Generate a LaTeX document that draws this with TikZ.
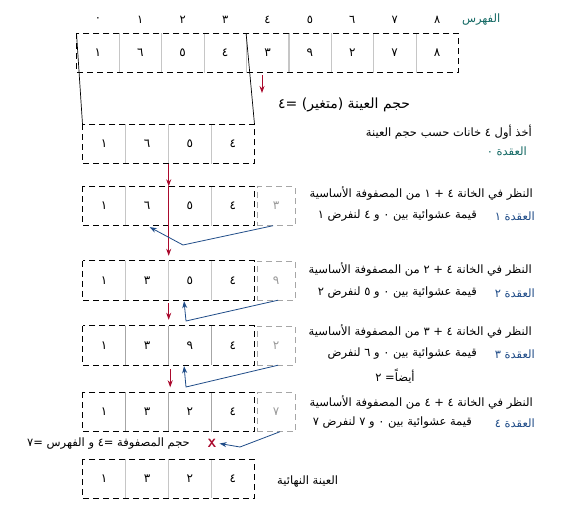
\documentclass[tikz,border=0pt]{standalone}
\usepackage{fontspec}
\newfontfamily\arabicfont[Script=Arabic]{DejaVu Sans}
\TeXXeTstate=1
\usetikzlibrary{positioning,arrows.meta}
\definecolor{idxteal}{RGB}{20,105,100}
\definecolor{nodeblue}{RGB}{30,75,135}
\definecolor{markred}{RGB}{170,10,45}
\newcommand{\artext}[1]{\beginR #1\endR}

\begin{document}
\begin{tikzpicture}[x=1pt,y=-1pt,on grid,node distance=43pt,
    >={Stealth[length=7pt,width=5pt]},
    cell/.style={minimum width=#1,minimum height=39pt,inner sep=0pt,
      font=\arabicfont\fontsize{12}{14}\selectfont},
    cell/.default=42.9pt,
    idx/.style={inner sep=0pt,font=\arabicfont\fontsize{11.5}{13}\selectfont},
    greycell/.style={cell=38pt,draw=gray!70,dash pattern=on 6pt off 4pt,text=gray!80},
    dashbox/.style={draw,line width=0.7pt,dash pattern=on 6pt off 4pt},
    divider/.style={draw=#1,line width=1.2pt},
    note/.style={inner sep=0pt,font=\arabicfont\fontsize{11.5}{13}\selectfont},
    redarrow/.style={->,draw=markred,line width=1pt},
    bluearrow/.style={->,draw=nodeblue,line width=0.8pt}]
  \useasboundingbox (0,0) rectangle (568,519);

  \foreach \v/\k [count=\i from 0] in {١/٠,٦/١,٥/٢,٤/٣,٣/٤,٩/٥,٢/٦,٧/٧,٨/٨} {
    \node[cell=42.4pt] (a_\i) at ({97.9+42.4*\i},53) {\v};
    \node[idx] (ix_\i) [above=33pt of a_\i] {\k};
  }
  \foreach \i in {0,...,7} \draw[divider=gray!45] (a_\i.north east) -- (a_\i.south east);
  \draw[dashbox] (a_0.north west) rectangle (a_8.south east);
  \node[idx,text=idxteal] (ix_name) [right=44pt of ix_8] {\artext{الفهرس}};

  \foreach \r/\y/\c/\l in {0/144/gray!45/{١,٦,٥,٤},1/206/gray!45/{١,٦,٥,٤},
      2/280.5/gray!45/{١,٣,٥,٤},3/345.5/gray!70/{١,٣,٩,٤},
      4/412/gray!70/{١,٣,٢,٤},5/478.7/gray!45/{١,٣,٢,٤}} {
    \foreach \v [count=\i] in \l
      \node[cell] (r\r_\i) at ({61.25+42.9*\i},\y) {\v};
    \foreach \i in {1,2,3} \draw[divider=\c] (r\r_\i.north east) -- (r\r_\i.south east);
    \draw[dashbox] (r\r_1.north west) rectangle (r\r_4.south east);
  }
  \node[greycell] (g_1) [right=43.2pt of r1_4] {٣};
  \node[greycell] (g_2) [right=43.2pt of r2_4] {٩};
  \node[greycell] (g_3) [right=43.2pt of r3_4] {٢};
  \node[greycell] (g_4) [right=43.2pt of r4_4] {٧};

  \draw[line width=0.7pt] (a_0.north west) -- (r0_1.north west);
  \draw[line width=0.7pt] (a_4.north west) -- (r0_4.north east);

  \node[note,font=\arabicfont\fontsize{14}{16}\selectfont,anchor=west] (t_size) at (278,105) {\artext{حجم العينة (متغير) =٤}};
  \node[note,anchor=east] (t_take) at (532,132) {\artext{أخذ أول ٤ خانات حسب حجم العينة}};
  \node[note,anchor=east,text=idxteal] (it_0) at (527,151) {\artext{العقدة ٠}};

  \node[note,anchor=east] (look_1) at (533,193) {\artext{النظر في الخانة ٤ + ١ من المصفوفة الأساسية}};
  \node[note,anchor=east,text=nodeblue] (it_1) at (535,216) {\artext{العقدة ١}};
  \node[note,anchor=east] (pick_1) at (477,216) {\artext{قيمة عشوائية بين ٠ و ٤ لنفرض ١}};

  \node[note,anchor=east] (look_2) at (532,269) {\artext{النظر في الخانة ٤ + ٢ من المصفوفة الأساسية}};
  \node[note,anchor=east,text=nodeblue] (it_2) at (535,293) {\artext{العقدة ٢}};
  \node[note,anchor=east] (pick_2) at (477,293) {\artext{قيمة عشوائية بين ٠ و ٥ لنفرض ٢}};

  \node[note,anchor=east] (look_3) at (532,331) {\artext{النظر في الخانة ٤ + ٣ من المصفوفة الأساسية}};
  \node[note,anchor=east,text=nodeblue] (it_3) at (535,354) {\artext{العقدة ٣}};
  \node[note,anchor=east] (pick_3) at (477,354) {\artext{قيمة عشوائية بين ٠ و ٦ لنفرض}};
  \node[note] (also_3) at (395,376) {\artext{أيضاً= ٢}};

  \node[note,anchor=east] (look_4) at (533,402) {\artext{النظر في الخانة ٤ + ٤ من المصفوفة الأساسية}};
  \node[note,anchor=east,text=nodeblue] (it_4) at (535,423) {\artext{العقدة ٤}};
  \node[note,anchor=east] (pick_4) at (472,423) {\artext{قيمة عشوائية بين ٠ و ٧ لنفرض ٧}};

  \node[note,anchor=west] (final) at (277,482) {\artext{العينة النهائية}};

  \node[font=\sffamily\bfseries\large,text=markred,inner sep=0pt] (cross) at (212,443) {X};
  \node[note,anchor=east] (t_end) at (190,444) {\artext{حجم المصفوفة =٤ و الفهرس =٧}};

  \coordinate (sz_top) at (262,75);
  \coordinate (sz_tip) at (262,93);
  \draw[redarrow] (sz_top) -- (sz_tip);
  \draw[redarrow] (r0_2.south east) -- (r1_2.north east);
  \draw[redarrow,shorten >=5pt] (r1_2.north east) -- (r2_2.north east);
  \draw[redarrow,shorten <=3pt,shorten >=6pt] (r2_2.south east) -- (r3_2.north east);
  \draw[redarrow,shorten <=4pt,shorten >=5pt] ([xshift=1.5pt]r3_2.south east) -- ([xshift=1.5pt]r4_2.north east);

  \coordinate (k_1) at (183,245);
  \coordinate (k_2) at (186,321);
  \coordinate (k_3) at (186,387);
  \coordinate (k_4) at (240,447);
  \draw[bluearrow,shorten >=3pt] ([xshift=-3pt]g_1.south) -- (k_1) -- (r1_2.south);
  \draw[bluearrow,shorten >=1pt] ([xshift=2pt]g_2.south) -- (k_2) -- ([xshift=-6pt]r2_3.south);
  \draw[bluearrow,shorten >=1pt] ([xshift=2pt]g_3.south) -- (k_3) -- ([xshift=-6pt]r3_3.south);
  \draw[bluearrow,shorten >=3pt] ([xshift=4pt]g_4.south) -- (k_4) -- (cross.east);
\end{tikzpicture}
\end{document}
